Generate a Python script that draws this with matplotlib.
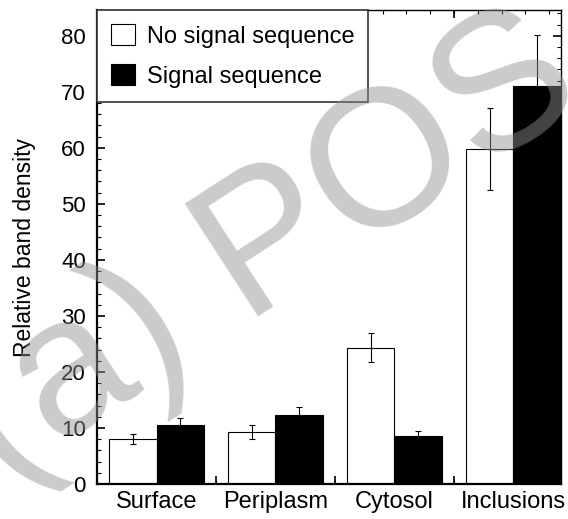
import numpy as np
import matplotlib.pyplot as plt
from matplotlib.ticker import FixedLocator, MultipleLocator

plt.rcParams['font.family'] = ['Liberation Sans', 'DejaVu Sans']

# data
categories = ['Surface', 'Periplasm', 'Cytosol', 'Inclusions']
no_signal = [8.0, 9.3, 24.3, 59.8]
no_signal_err = [0.9, 1.2, 2.6, 7.4]
signal = [10.5, 12.3, 8.6, 71.0]
signal_err = [1.2, 1.4, 0.9, 9.2]

x = np.arange(len(categories))
w = 0.4

fig = plt.figure(figsize=(5.68, 5.19), dpi=100)
ax = fig.add_axes([0.1708, 0.0674, 0.8169, 0.9133])

ax.bar(x - w/2, no_signal, w, color='white', edgecolor='black', linewidth=0.8,
       label='No signal sequence', zorder=2)
ax.bar(x + w/2, signal, w, color='black', edgecolor='black', linewidth=0.8,
       label='Signal sequence', zorder=2)
ax.errorbar(x - w/2, no_signal, yerr=no_signal_err, fmt='none', ecolor='black',
            elinewidth=0.8, capsize=2.5, capthick=0.8, zorder=3)
ax.errorbar(x + w/2, signal, yerr=signal_err, fmt='none', ecolor='black',
            elinewidth=0.8, capsize=2.5, capthick=0.8, zorder=3)

ax.set_xlim(-0.5, 3.4)
ax.set_ylim(0, 84.6)

# category labels at group centres, no tick marks
ax.set_xticks(x, labels=categories, fontsize=17)
ax.tick_params(axis='x', which='major', length=0, pad=5)
ax.xaxis.set_minor_locator(FixedLocator(np.arange(-0.5, 3.41, 0.2)))
ax.tick_params(axis='x', which='minor', direction='in', length=3, width=0.8,
               top=True, bottom=True)

# longer ticks between groups
for loc in ['bottom', 'top']:
    sec = ax.secondary_xaxis(loc)
    sec.set_xticks([0.5, 1.5, 2.5])
    sec.tick_params(direction='in', length=6, width=1.2, labelbottom=False, labeltop=False)
    sec.spines[loc].set_visible(False)

ax.yaxis.set_major_locator(MultipleLocator(10))
ax.yaxis.set_minor_locator(MultipleLocator(2))
ax.tick_params(axis='y', which='major', direction='in', length=6, width=1.2,
               left=True, right=True, labelsize=16, pad=8)
ax.tick_params(axis='y', which='minor', direction='in', length=3, width=0.8,
               left=True, right=True)
ax.set_ylabel('Relative band density', fontsize=16.5, labelpad=18)

for s in ['left', 'bottom']:
    ax.spines[s].set_linewidth(1.6)
for s in ['top', 'right']:
    ax.spines[s].set_linewidth(1.0)

leg = ax.legend(loc='upper left', bbox_to_anchor=(0, 1), borderaxespad=0,
                fontsize=17, fancybox=False, edgecolor='#333333', framealpha=1,
                handlelength=1.0, handleheight=1.0, labelspacing=0.7,
                borderpad=0.6, handletextpad=0.5)
leg.get_frame().set_linewidth(1.2)
leg.set_zorder(5)

# watermark
fig.text(0.519, 0.438, '(a) POS', fontsize=140, color='#909090', alpha=0.47,
         rotation=33, rotation_mode='anchor', ha='center', va='baseline', zorder=10)

fig.savefig('out.png', dpi=100)
